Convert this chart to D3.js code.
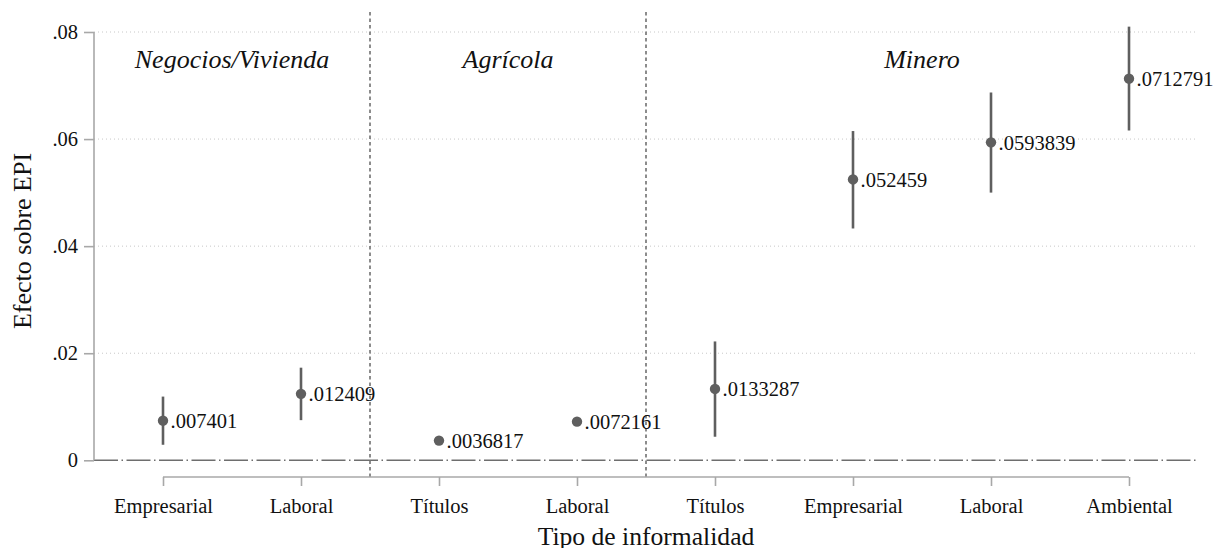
<!DOCTYPE html>
<html>
<head>
<meta charset="utf-8">
<script src="https://cdn.jsdelivr.net/npm/d3@7"></script>
<style>
  body { margin: 0; background: #fff; }
  text { font-family: "Liberation Serif", "Times New Roman", serif; fill: #111; }
</style>
</head>
<body>
<svg id="chart" width="1215" height="548"></svg>
<script>
// data
var categories = ["Empresarial", "Laboral", "Títulos", "Laboral", "Títulos", "Empresarial", "Laboral", "Ambiental"];
var estimates = [0.007401, 0.012409, 0.0036817, 0.0072161, 0.0133287, 0.052459, 0.0593839, 0.0712791];
var ciLow  = [0.0029, 0.0075, 0.0032, 0.0067, 0.0044, 0.0433, 0.0500, 0.0616];
var ciHigh = [0.0119, 0.0173, 0.0041, 0.0077, 0.0222, 0.0615, 0.0687, 0.0810];
var labels = [".007401", ".012409", ".0036817", ".0072161", ".0133287", ".052459", ".0593839", ".0712791"];
var groups = ["Negocios/Vivienda", "Agrícola", "Minero"];
var groupStart = [0, 2, 4];
var groupEnd = [1, 3, 7];
var yTicks = [0, 0.02, 0.04, 0.06, 0.08];
var yTickLabels = ["0", ".02", ".04", ".06", ".08"];

var svg = d3.select("#chart");

var x = d3.scaleLinear().domain([-0.5, 7.5]).range([94, 1198]);
var y = d3.scaleLinear().domain([0, 0.08]).range([460.3, 32]);

// grid
svg.append("g").selectAll("line")
    .data(yTicks.slice(1))
  .enter().append("line")
    .attr("x1", 94).attr("x2", 1198)
    .attr("y1", function(d) { return y(d); })
    .attr("y2", function(d) { return y(d); })
    .attr("stroke", "#c8c8c8")
    .attr("stroke-width", 1)
    .attr("stroke-dasharray", "1,3");

// zero reference line
svg.append("line")
    .attr("x1", 94).attr("x2", 1198)
    .attr("y1", y(0)).attr("y2", y(0))
    .attr("stroke", "#6e6e6e")
    .attr("stroke-width", 1.6)
    .attr("stroke-dasharray", "24,3.5,1.5,3.5");

// group separators
svg.append("g").selectAll("line")
    .data(groupStart.slice(1))
  .enter().append("line")
    .attr("x1", function(d) { return x(d - 0.5); })
    .attr("x2", function(d) { return x(d - 0.5); })
    .attr("y1", 12).attr("y2", 477)
    .attr("stroke", "#707070")
    .attr("stroke-width", 1.6)
    .attr("stroke-dasharray", "3.5,3");

// y axis
var yAxis = d3.axisLeft(y)
    .tickValues(yTicks)
    .tickFormat(function(d, i) { return yTickLabels[i]; })
    .tickSize(10)
    .tickPadding(6);
var gy = svg.append("g").attr("transform", "translate(94,0)").call(yAxis);
gy.select(".domain").attr("stroke", "#a8a8a8").attr("stroke-width", 1.6)
    .attr("d", "M0," + y(0.08) + "V" + y(0));
gy.selectAll(".tick line").attr("stroke", "#a8a8a8").attr("stroke-width", 1.6);
gy.selectAll(".tick text").attr("font-size", 20.5).attr("fill", "#111");

// x axis
var xAxis = d3.axisBottom(x)
    .tickValues(d3.range(categories.length))
    .tickFormat(function(d) { return categories[d]; })
    .tickSize(9)
    .tickPadding(12);
var gx = svg.append("g").attr("transform", "translate(0,477)").call(xAxis);
gx.select(".domain").attr("stroke", "#a8a8a8").attr("stroke-width", 1.6)
    .attr("d", "M" + x(0) + ",0H" + x(7));
gx.selectAll(".tick line").attr("stroke", "#a8a8a8").attr("stroke-width", 1.6);
gx.selectAll(".tick text").attr("font-size", 20.5).attr("fill", "#111");

// confidence intervals
svg.append("g").selectAll("line")
    .data(estimates)
  .enter().append("line")
    .attr("x1", function(d, i) { return x(i); })
    .attr("x2", function(d, i) { return x(i); })
    .attr("y1", function(d, i) { return y(ciLow[i]); })
    .attr("y2", function(d, i) { return y(ciHigh[i]); })
    .attr("stroke", "#5f5f5f")
    .attr("stroke-width", 2.6);

// points
svg.append("g").selectAll("circle")
    .data(estimates)
  .enter().append("circle")
    .attr("cx", function(d, i) { return x(i); })
    .attr("cy", function(d) { return y(d); })
    .attr("r", 5.2)
    .attr("fill", "#5f5f5f");

// value labels
svg.append("g").selectAll("text")
    .data(estimates)
  .enter().append("text")
    .attr("x", function(d, i) { return x(i) + 7.5; })
    .attr("y", function(d) { return y(d) + 7.5; })
    .attr("font-size", 20.5)
    .text(function(d, i) { return labels[i]; });

// group titles
svg.append("g").selectAll("text")
    .data(groups)
  .enter().append("text")
    .attr("x", function(d, i) { return (x(groupStart[i] - 0.5) + x(groupEnd[i] + 0.5)) / 2; })
    .attr("y", 68)
    .attr("text-anchor", "middle")
    .attr("font-size", 26)
    .attr("font-style", "italic")
    .text(function(d) { return d; });

// axis titles
svg.append("text")
    .attr("x", (94 + 1198) / 2)
    .attr("y", 545)
    .attr("text-anchor", "middle")
    .attr("font-size", 25.6)
    .text("Tipo de informalidad");

svg.append("text")
    .attr("transform", "translate(31,241) rotate(-90)")
    .attr("text-anchor", "middle")
    .attr("font-size", 26)
    .text("Efecto sobre EPI");
</script>
</body>
</html>
